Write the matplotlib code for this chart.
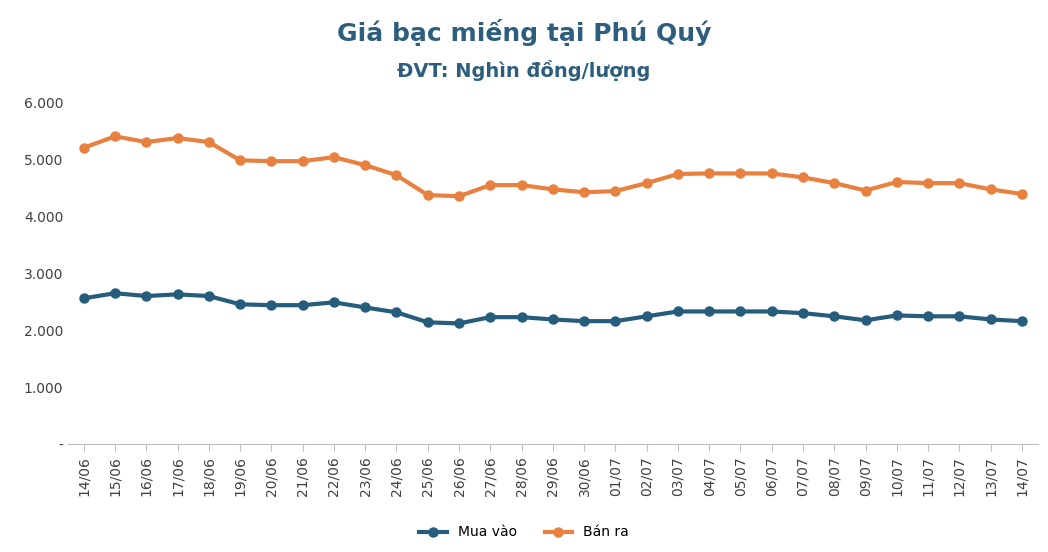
import matplotlib
matplotlib.use("Agg")
import matplotlib.pyplot as plt
from matplotlib.ticker import FuncFormatter

dates = ["14/06", "15/06", "16/06", "17/06", "18/06", "19/06", "20/06", "21/06", "22/06",
         "23/06", "24/06", "25/06", "26/06", "27/06", "28/06", "29/06", "30/06", "01/07",
         "02/07", "03/07", "04/07", "05/07", "06/07", "07/07", "08/07", "09/07", "10/07",
         "11/07", "12/07", "13/07", "14/07"]
mua_vao = [2560, 2650, 2600, 2630, 2600, 2455, 2440, 2440, 2490, 2400, 2315, 2140, 2120,
           2230, 2230, 2190, 2160, 2160, 2245, 2330, 2330, 2330, 2330, 2300, 2245, 2175,
           2260, 2245, 2245, 2190, 2160]
ban_ra = [5200, 5400, 5300, 5370, 5300, 4980, 4965, 4965, 5035, 4895, 4720, 4370, 4350,
          4545, 4545, 4470, 4420, 4440, 4580, 4740, 4750, 4750, 4750, 4680, 4580, 4450,
          4600, 4580, 4580, 4470, 4390]

blue = "#265C7C"
orange = "#E8803F"

fig = plt.figure(figsize=(10.48, 5.52), dpi=100)
ax = fig.add_axes([0.065, 0.195, 0.925, 0.62])
x = range(len(dates))
ax.plot(x, mua_vao, color=blue, lw=3, marker="o", ms=6.5, label="Mua vào")
ax.plot(x, ban_ra, color=orange, lw=3, marker="o", ms=6.5, label="Bán ra")

ax.set_ylim(0, 6000)
ax.set_yticks(range(0, 6001, 1000))
ax.yaxis.set_major_formatter(FuncFormatter(
    lambda v, p: "-" if v == 0 else f"{int(v):,}".replace(",", ".")))
ax.set_xlim(-0.5, len(dates) - 0.5)
ax.set_xticks(list(x))
ax.set_xticklabels(dates, rotation=90)
ax.tick_params(axis="both", labelsize=10, colors="#404040", length=0)
ax.tick_params(axis="x", length=5, color="#BFBFBF")
for s in ["top", "right", "left"]:
    ax.spines[s].set_visible(False)
ax.spines["bottom"].set_color("#BFBFBF")

fig.text(0.5, 0.925, "Giá bạc miếng tại Phú Quý", ha="center", fontsize=18,
         fontweight="bold", color="#2E5E7E")
fig.text(0.5, 0.86, "ĐVT: Nghìn đồng/lượng", ha="center", fontsize=14,
         fontweight="bold", color="#2E5E7E")
fig.legend(loc="lower center", ncol=2, frameon=False, fontsize=10,
           bbox_to_anchor=(0.5, 0.0))
fig.savefig("out.png", dpi=100)
